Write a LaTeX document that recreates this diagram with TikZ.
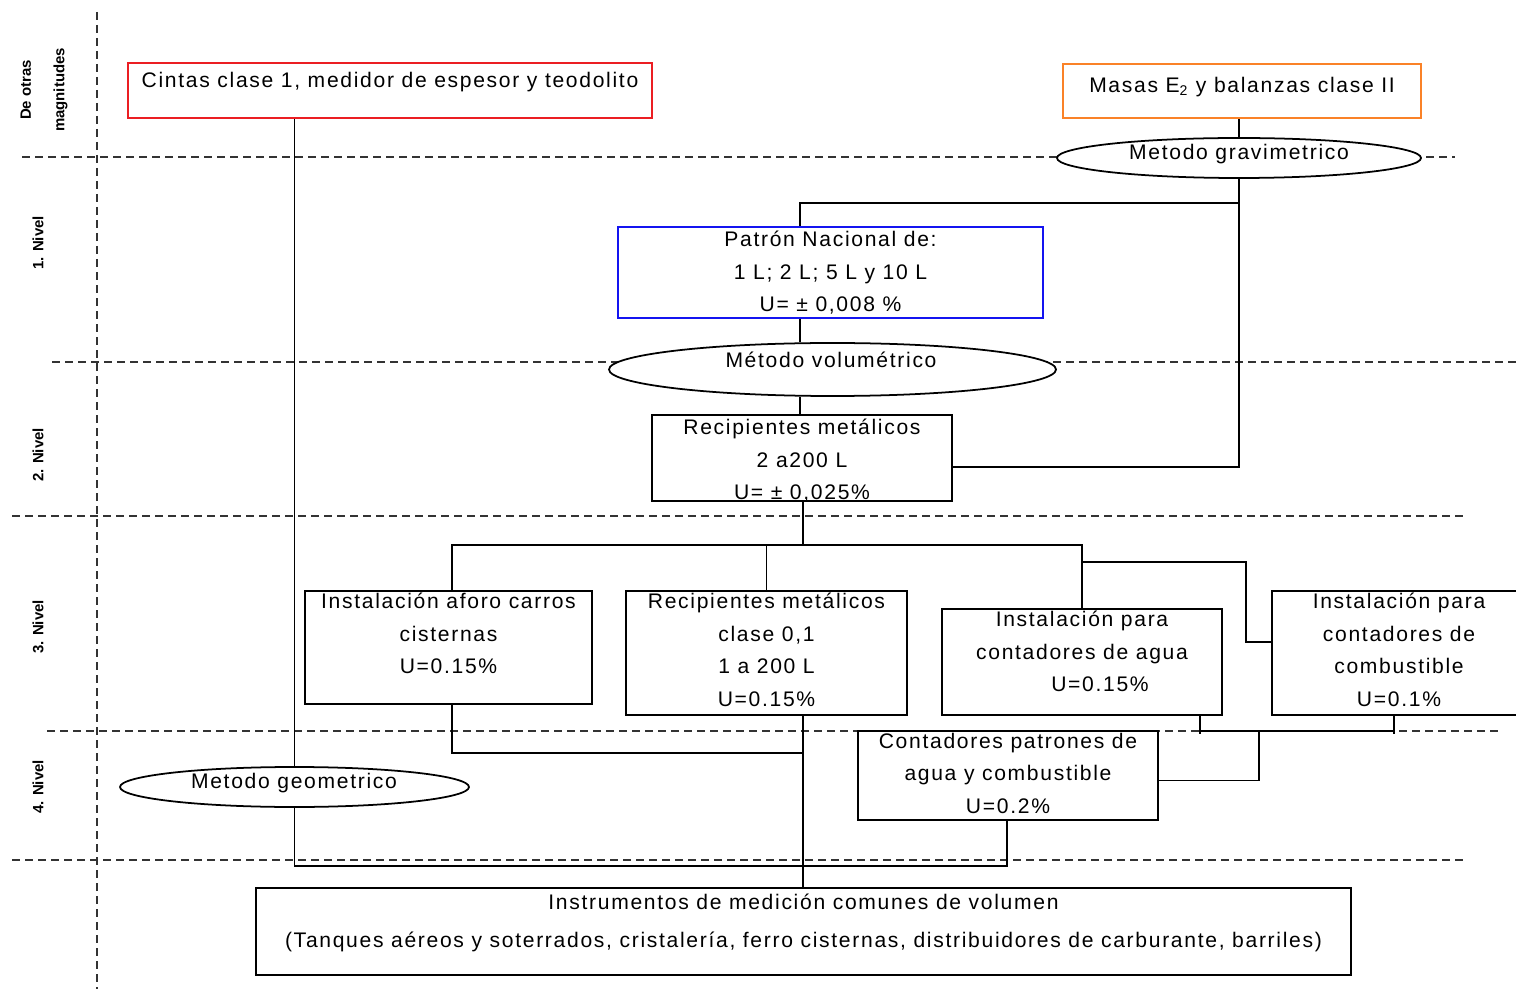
\documentclass[tikz,border=0pt]{standalone}
\usepackage{fontspec}
\setmainfont[LetterSpace=8]{Liberation Sans}
\newfontfamily\lvlfont{Liberation Sans}
\usetikzlibrary{shapes.geometric,positioning,calc}
\definecolor{boxred}{RGB}{235,30,35}
\definecolor{boxorange}{RGB}{250,130,40}
\definecolor{boxblue}{RGB}{20,20,240}

\begin{document}
\begin{tikzpicture}[
    x=0.2mm, y=-0.2mm,
    box/.style={rectangle, draw, line width=1pt, fill=white, inner sep=0pt},
    oval/.style={ellipse, draw, line width=1pt, fill=white, inner sep=0pt},
    txt/.style={align=center, inner sep=0pt, font=\fontsize{12}{18.5}\selectfont},
    lvl/.style={rotate=90, inner sep=0pt, align=center, font=\lvlfont\fontsize{8.5}{19}\selectfont\bfseries},
    guide/.style={dash pattern=on 1.6mm off 1mm, line width=0.7pt, black!80},
    link/.style={line width=1pt}
]
    \useasboundingbox (0,0) rectangle (1516,989);

    % Level separators
    \draw[guide] (97,12) -- (97,989);
    \draw[guide] (22,157) -- (1455,157);
    \draw[guide] (52,362) -- (1516,362);
    \draw[guide] (12,516) -- (1465,516);
    \draw[guide] (47,731) -- (1500,731);
    \draw[guide] (12,860) -- (1465,860);

    % Level labels
    \node[lvl] (otras) at (44,90) {De otras\\magnitudes};
    \node[lvl] (nivel1) at (38,243) {1. Nivel};
    \node[lvl] (nivel2) at (38,455) {2. Nivel};
    \node[lvl] (nivel3) at (38,627) {3. Nivel};
    \node[lvl] (nivel4) at (38,787) {4. Nivel};

    % Other magnitudes
    \node[box, draw=boxred, minimum width=104.8mm, minimum height=11mm] (cintas) at (390,90.5) {};
    \node[txt, below=1.9mm of cintas.north] (cintastxt) {Cintas clase 1, medidor de espesor y teodolito};
    \node[box, draw=boxorange, minimum width=71.6mm, minimum height=10.8mm] (masas) at (1242,91) {};
    \node[txt, below=2.7mm of masas.north] (masastxt) {Masas E\textsubscript{2} y balanzas clase II};
    \node[oval, minimum width=72.8mm, minimum height=8mm] (grav) at (1239,158) {};
    \node[txt, anchor=base] (gravtxt) at (1239,159.5) {Metodo gravimetrico};

    % Level 1
    \node[box, draw=boxblue, minimum width=85mm, minimum height=18.2mm] (patron) at (830.5,272.5) {};
    \node[txt, below=0.9mm of patron.north] (patrontxt) {Patrón Nacional de:\\1 L; 2 L; 5 L y 10 L\\U= ± 0,008 \%};
    \node[oval, minimum width=89.4mm, minimum height=10.6mm] (vol) at (832.5,369.5) {};
    \node[txt, anchor=base] (voltxt) at (831,367.5) {Método volumétrico};

    % Level 2
    \node[box, minimum width=60mm, minimum height=17.2mm] (recip) at (802,458) {};
    \node[txt, below=0.9mm of recip.north] (reciptxt) {Recipientes metálicos\\2 a200 L\\U= ± 0,025\%};

    % Level 3
    \node[box, minimum width=57.4mm, minimum height=22.6mm] (aforo) at (448.5,647.5) {};
    \node[txt, below=0.5mm of aforo.north] (aforotxt) {Instalación aforo carros\\cisternas\\U=0.15\%};
    \node[box, minimum width=56.2mm, minimum height=24.8mm] (recipb) at (766.5,653) {};
    \node[txt, below=0.5mm of recipb.north] (recipbtxt) {Recipientes metálicos\\clase 0,1\\1 a 200 L\\U=0.15\%};
    \node[box, minimum width=56mm, minimum height=21.2mm] (agua) at (1082,662) {};
    \node[txt, below=0.5mm of agua.north] (aguatxt) {Instalación para\\contadores de agua\\\hspace*{7.2mm}U=0.15\%};
    \node[box, minimum width=50.8mm, minimum height=24.8mm] (comb) at (1399,653) {};
    \node[txt, below=0.5mm of comb.north] (combtxt) {Instalación para\\contadores de\\combustible\\U=0.1\%};

    % Level 4
    \node[box, minimum width=60mm, minimum height=17.8mm] (cont) at (1008,775.5) {};
    \node[txt, below=0.5mm of cont.north] (conttxt) {Contadores patrones de\\agua y combustible\\U=0.2\%};
    \node[oval, minimum width=69.8mm, minimum height=8mm] (geom) at (294.5,787) {};
    \node[txt, anchor=base] (geomtxt) at (294,788.5) {Metodo geometrico};

    % Users
    \node[box, minimum width=219mm, minimum height=17.4mm] (instr) at (803.5,931.5) {};
    \node[txt, below=1.3mm of instr.north] (instrtxt) {Instrumentos de medición comunes de volumen\\[1.1mm](Tanques aéreos y soterrados, cristalería, ferro cisternas, distribuidores de carburante, barriles)};

    % Junctions
    \coordinate (spine) at (800,0);
    \coordinate (gjoin) at (1239,203);
    \coordinate (bjoin) at (803,545);
    \coordinate (cjoin) at (1082,562);
    \coordinate (ckink) at (1246,0);
    \coordinate (cin) at ([yshift=2.2mm]comb.west);
    \coordinate (ajoin) at (1200,731);
    \coordinate (kjoin) at (1394,731);
    \coordinate (mjoin) at (1259,731);
    \coordinate (fjoin) at (452,0);
    \coordinate (djoin) at (803,753);
    \coordinate (ejoin) at (1007,866);

    % Edges
    \draw[link] (grav.north |- masas.south) -- (grav.north);
    \draw[link] (grav.south) |- ([yshift=-1.8mm]recip.east);
    \draw[link] (gjoin) -| (spine |- patron.north);
    \draw[link] (spine |- patron.south) -- (spine |- vol.north);
    \draw[link] (spine |- vol.south) -- (spine |- recip.north);
    \draw[link] (bjoin |- recip.south) -- (bjoin);
    \draw[link] (fjoin |- aforo.north) |- (bjoin);
    \draw[link] (recipb.north) |- (bjoin);
    \draw[link] (agua.north) |- (bjoin);
    \draw[link] (cjoin) -| (ckink |- cin) -- (cin);
    \draw[link] (ajoin |- agua.south) -- ([yshift=-0.6mm]ajoin);
    \draw[link] (kjoin |- comb.south) -- ([yshift=-0.6mm]kjoin);
    \draw[link] (ajoin) -- (kjoin);
    \draw[link] (mjoin) |- ([yshift=-1mm]cont.east);
    \draw[link] (fjoin |- aforo.south) |- (djoin);
    \draw[link] (djoin |- recipb.south) -- (djoin);
    \draw[link] (djoin) -- (djoin |- instr.north);
    \draw[link] (geom.north |- cintas.south) -- (geom.north);
    \draw[link] (geom.south) |- (ejoin) -- (ejoin |- cont.south);
\end{tikzpicture}
\end{document}
